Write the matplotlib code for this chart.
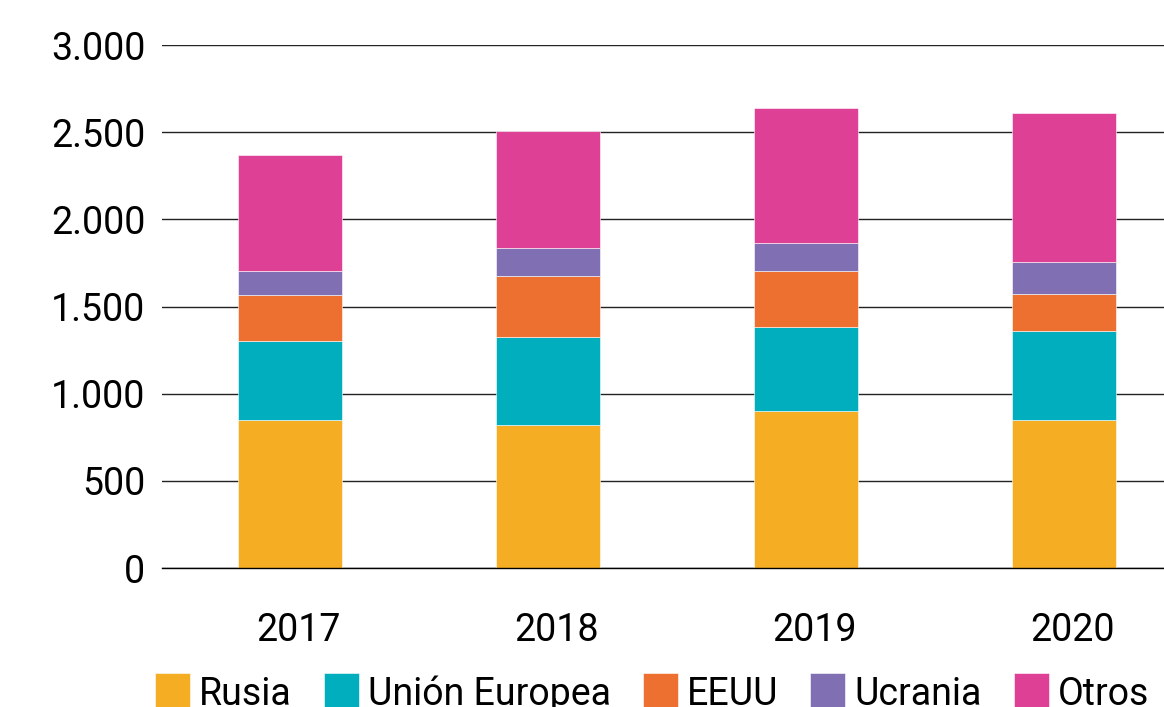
import numpy as np
import matplotlib
matplotlib.use('Agg')
import matplotlib.pyplot as plt
import matplotlib.transforms as mtransforms
from matplotlib.ticker import FuncFormatter

plt.rcParams['font.family'] = ['Roboto', 'DejaVu Sans']

### data
years = ['2017', '2018', '2019', '2020']
series = ['Rusia', 'Unión Europea', 'EEUU', 'Ucrania', 'Otros']
rusia = [850, 820, 900, 848]
union_europea = [452, 505, 482, 512]
eeuu = [264, 350, 322, 210]
ucrania = [137, 160, 160, 188]
otros = [667, 670, 775, 852]
colors = ['#F5AE23', '#00AEBE', '#EE7031', '#806FB3', '#DE4096']

values = [rusia, union_europea, eeuu, ucrania, otros]

### figure
fig = plt.figure(figsize=(11.64, 7.07), dpi=100)
ax = fig.add_axes([0.139, 0.1966, 0.861, 0.7397])

x = np.arange(len(years))
bottom = np.zeros(len(years))
for name, vals, c in zip(series, values, colors):
    ax.bar(x, vals, width=0.403, bottom=bottom, color=c, label=name,
           edgecolor='white', linewidth=0.4, zorder=3)
    bottom += np.array(vals)

ax.set_ylim(0, 3000)
ax.set_xlim(-0.496, 3.388)
ax.set_yticks(np.arange(0, 3001, 500))
ax.yaxis.set_major_formatter(FuncFormatter(lambda v, p: f'{int(v):,}'.replace(',', '.')))
ax.set_xticks(x)
ax.set_xticklabels(years)
ax.grid(axis='y', color='#222222', linewidth=1.0, zorder=0)
ax.axhline(0, color='black', linewidth=1.0, zorder=4, clip_on=False)
for s in ax.spines.values():
    s.set_visible(False)
ax.tick_params(axis='both', length=0, labelsize=27, colors='black')
ax.tick_params(axis='y', pad=12)
ax.tick_params(axis='x', pad=32)

# year labels sit a little right of the bar centres in the original
offset = mtransforms.ScaledTranslation(0.09, 0, fig.dpi_scale_trans)
for lab in ax.get_xticklabels():
    lab.set_transform(lab.get_transform() + offset)

leg = fig.legend(loc='lower left', bbox_to_anchor=(0.133, -0.008), ncol=5,
                 frameon=False, fontsize=27, handlelength=0.93, handleheight=1.15,
                 handletextpad=0.25, columnspacing=0.85, borderaxespad=0,
                 borderpad=0)

fig.savefig('out.png', dpi=100)
